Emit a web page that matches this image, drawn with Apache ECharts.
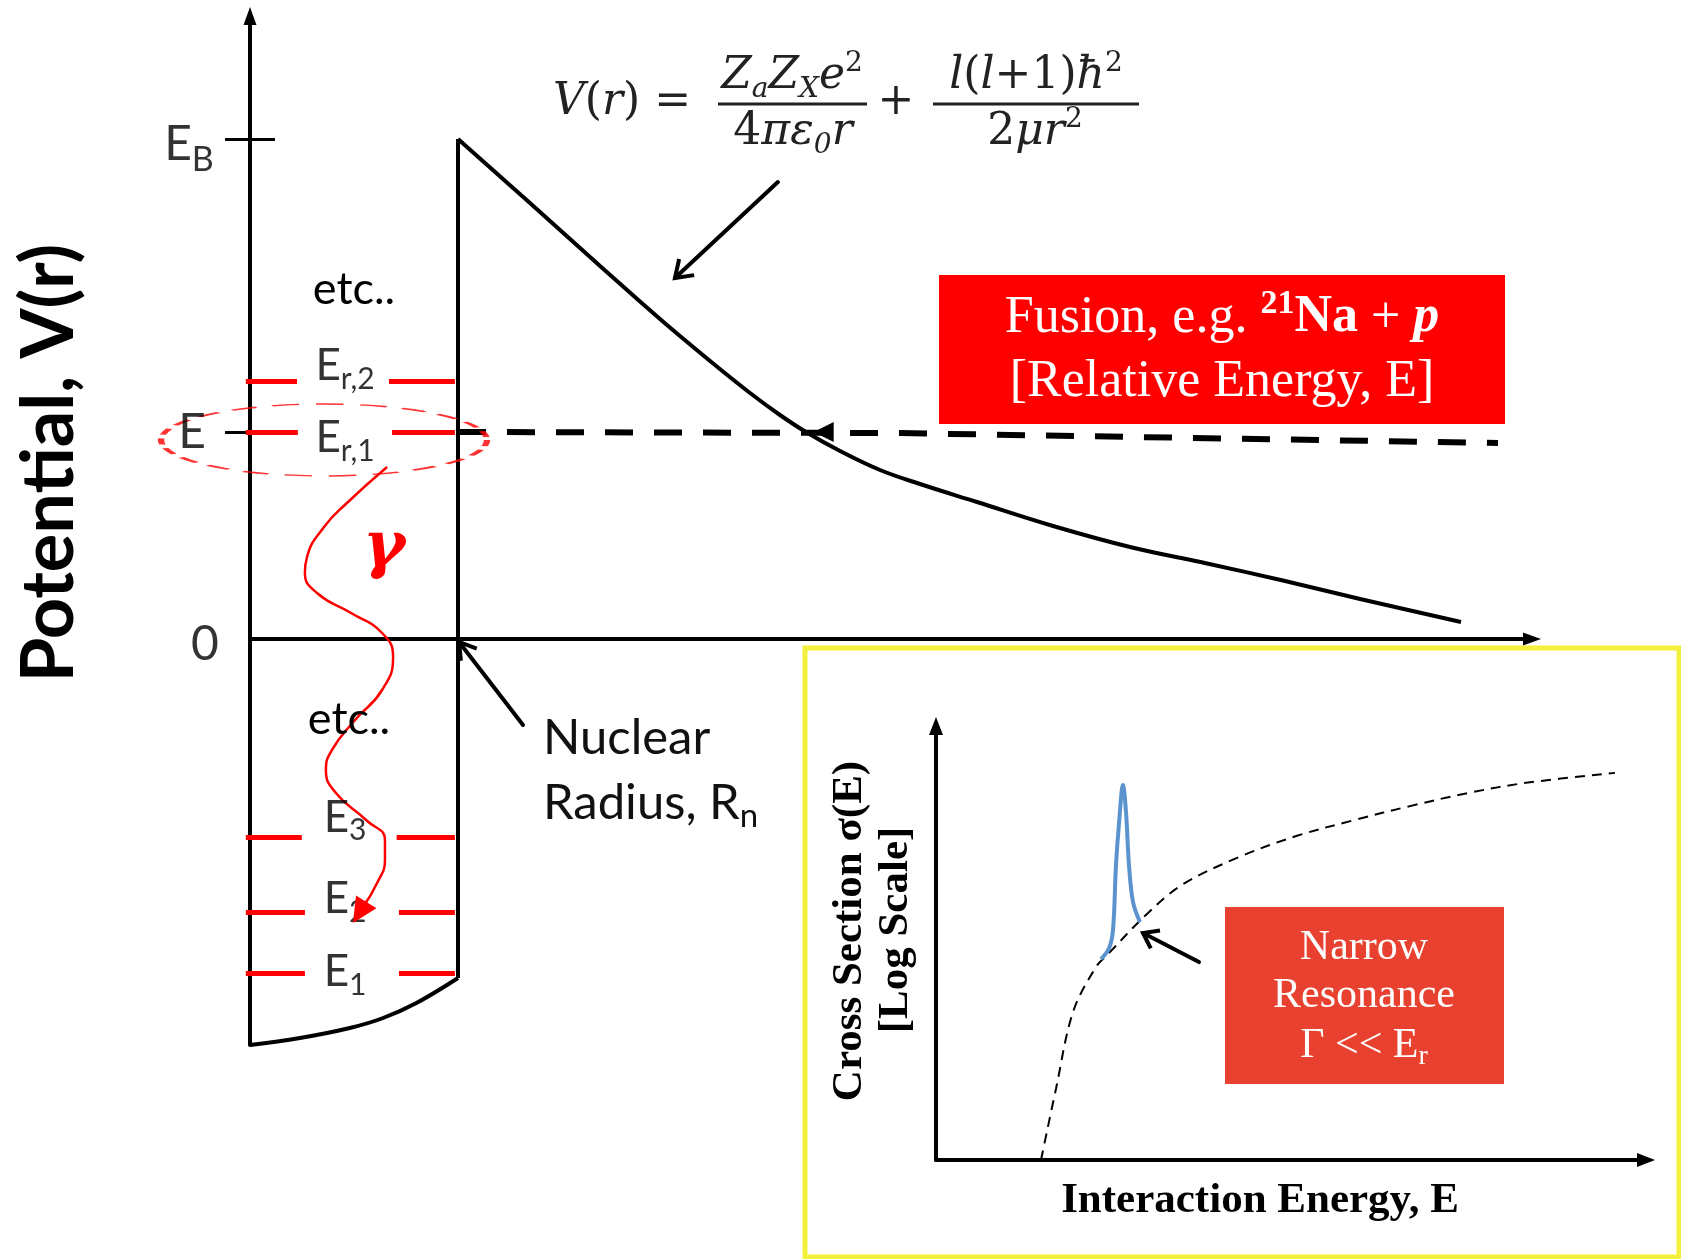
<!DOCTYPE html>
<html><head><meta charset="utf-8"><title>Nuclear potential and narrow resonance</title>
<script src="https://cdn.jsdelivr.net/npm/echarts@6/dist/echarts.min.js"></script>
<style>html,body{margin:0;padding:0;background:#fff;}#chart{width:1681px;height:1259px;}</style>
</head><body><div id="chart"></div>
<script>
// ================= DATA =================
// Main plot: r in units of the nuclear radius R_n, V in arbitrary energy units
const R_N = 1.0;
const E_B = 10.0;          // barrier height
const E_REL = 4.14;        // relative energy E
const WELL_BOTTOM_R = [0, 0.24, 0.48, 0.64, 0.80, 1.0];
const WELL_BOTTOM_V = [-8.12, -7.98, -7.78, -7.58, -7.28, -6.78];
const COULOMB_R = [1.0, 1.346, 1.683, 1.971, 2.212, 2.404, 2.548, 2.673, 2.837, 3.029, 3.221, 3.495, 3.861, 4.231, 4.601, 4.966, 5.337, 5.822];
const COULOMB_V = [10.0, 8.72, 7.46, 6.40, 5.56, 4.92, 4.48, 4.14, 3.76, 3.38, 3.10, 2.74, 2.26, 1.84, 1.51, 1.17, 0.80, 0.34];
const E_LINE_R = [1.0, 3.1, 6.0];
const E_LINE_V = [4.14, 4.12, 3.92];
const LEVEL_SUB = ['r,2', 'r,1', '3', '2', '1'];
const LEVEL_V = [5.16, 4.14, -3.96, -5.46, -6.68];
const LEVEL_GAP_FROM = [0.226, 0.230, 0.249, 0.264, 0.264];
const LEVEL_GAP_TO = [0.668, 0.683, 0.705, 0.716, 0.716];
const AXIS_MARK_TEXT = ['E_B', 'E', '0'];
const AXIS_MARK_V = [E_B, E_REL, 0];
const GAMMA_R = [0.659, 0.466, 0.356, 0.274, 0.264, 0.322, 0.486, 0.635, 0.688, 0.635, 0.505, 0.394, 0.365, 0.413, 0.558, 0.649, 0.649, 0.611, 0.543];
const GAMMA_V = [3.44, 2.72, 2.24, 1.64, 1.32, 0.92, 0.52, 0.12, -0.36, -1.02, -1.62, -2.22, -2.62, -3.08, -3.62, -4.02, -4.42, -4.88, -5.36];
const GAMMA_TIP = [0.495, -5.68];
const RES_ELLIPSE_CENTER = [0.356, 3.98];
const ARROW_FORMULA = [[2.538, 9.14], [2.043, 7.22]];
const ARROW_RN = [[1.3125, -1.72], [1.005, -0.06]];
const ARROW_CROSSING = [[2.95, 4.14], [2.71, 4.14]];
// Inset: interaction energy E vs cross section (log scale), arbitrary units
const SIGMA_E = [1.479, 1.690, 1.930, 2.254, 2.408, 2.972, 3.465, 4.268, 5.085, 5.887, 6.690, 7.507, 8.310, 9.563];
const SIGMA_LOG = [0, 1.64, 3.41, 4.45, 4.72, 5.67, 6.34, 6.98, 7.47, 7.83, 8.16, 8.46, 8.69, 8.92];
const PEAK_E = [2.324, 2.437, 2.493, 2.535, 2.577, 2.634, 2.676, 2.718, 2.775, 2.873];
const PEAK_LOG = [4.63, 4.88, 5.30, 6.80, 7.74, 8.64, 8.02, 6.80, 5.94, 5.48];
const ARROW_INSET = [[3.704, 4.56], [2.915, 5.23]];

// ================= CHART =================
const chart = echarts.init(document.getElementById('chart'), null, {renderer: 'canvas'});
const zip = (a, b) => a.map((v, i) => [v, b[i]]);
const SANS = 'Lato', SERIF = 'Liberation Serif', MATH = 'DejaVu Serif';
const BLACK = '#000', RED = '#ff0000', INK = '#222';
const TICK_HALF = 0.12;
const LEVEL_LEFT = -0.02, LEVEL_RIGHT = 0.985;
const LEVEL_LABEL_R = 0.457;
const LEVEL_LABEL_DY = [-15, 6, -19.5, -13, -1];
const AXIS_MARK_OFF = [[-61, 6], [-58, 0.5], [-45, 5.5]];

function axisCfg(g, min, max, sym) {
  return {type: 'value', gridIndex: g, min: min, max: max, z: 3,
    axisLine: {show: true, onZero: true, symbol: ['none', 'triangle'], symbolSize: sym,
      lineStyle: {color: BLACK, width: 4}},
    axisTick: {show: false}, axisLabel: {show: false}, splitLine: {show: false}};
}
const lineBase = (g, data, style, extra) => Object.assign({type: 'line', xAxisIndex: g, yAxisIndex: g,
  data: data, showSymbol: false, symbol: 'none', clip: false, silent: true, lineStyle: style, z: 4}, extra || {});

const levelSegs = [];
LEVEL_V.forEach((v, i) => {
  levelSegs.push({coords: [[LEVEL_LEFT, v], [LEVEL_GAP_FROM[i], v]]});
  levelSegs.push({coords: [[LEVEL_GAP_TO[i], v], [LEVEL_RIGHT, v]]});
});

const option = {
  animation: false,
  backgroundColor: '#fff',
  grid: [{left: 250, top: 16, width: 1282, height: 1029}, {left: 936, top: 726, width: 710, height: 434}],
  xAxis: [axisCfg(0, 0, 1282 / 208, [13, 18]), axisCfg(1, 0, 10, [14, 18])],
  yAxis: [axisCfg(0, -8.12, 12.46, [13, 18]), axisCfg(1, 0, 10, [14, 18])],
  series: [
    lineBase(0, zip(WELL_BOTTOM_R, WELL_BOTTOM_V), {color: BLACK, width: 4}, {smooth: 0.4}),
    lineBase(0, [[R_N, WELL_BOTTOM_V[WELL_BOTTOM_V.length - 1]], [R_N, E_B]], {color: BLACK, width: 4}),
    lineBase(0, zip(COULOMB_R, COULOMB_V), {color: BLACK, width: 4}, {smooth: 0.4}),
    lineBase(0, zip(E_LINE_R, E_LINE_V), {color: BLACK, width: 6, type: [28, 21], cap: 'butt'}),
    {type: 'lines', coordinateSystem: 'cartesian2d', xAxisIndex: 0, yAxisIndex: 0, clip: false, silent: true, z: 4,
      data: [E_B, E_REL].map(v => ({coords: [[-TICK_HALF, v], [TICK_HALF, v]]})),
      lineStyle: {color: BLACK, width: 3, opacity: 1}},
    {type: 'lines', coordinateSystem: 'cartesian2d', xAxisIndex: 0, yAxisIndex: 0, clip: false, silent: true, z: 5,
      data: levelSegs, lineStyle: {color: RED, width: 5, opacity: 1}},
    lineBase(0, zip(GAMMA_R, GAMMA_V), {color: RED, width: 2.5}, {smooth: 0.5, z: 6}),
    {type: 'scatter', xAxisIndex: 0, yAxisIndex: 0, silent: true, clip: false, z: 6,
      symbol: 'circle', symbolSize: [326, 72], data: [RES_ELLIPSE_CENTER],
      itemStyle: {color: 'rgba(0,0,0,0)', borderColor: RED, borderWidth: 3, borderType: [13, 8]}},
    {type: 'scatter', xAxisIndex: 0, yAxisIndex: 0, silent: true, clip: false, z: 7,
      symbolSize: 1, itemStyle: {color: 'rgba(0,0,0,0)'},
      data: LEVEL_V.map(v => [LEVEL_LABEL_R, v]),
      label: {show: true, position: 'inside', color: BLACK,
        formatter: p => '{m|E}{s|' + LEVEL_SUB[p.dataIndex] + '}',
        rich: {m: {fontFamily: SANS, fontSize: 44, lineHeight: 56, color: BLACK},
               s: {fontFamily: SANS, fontSize: 30, lineHeight: 28, verticalAlign: 'bottom', color: BLACK}}},
      labelLayout: p => ({dy: LEVEL_LABEL_DY[p.dataIndex]})},
    {type: 'scatter', xAxisIndex: 0, yAxisIndex: 0, silent: true, clip: false, z: 7,
      symbolSize: 1, itemStyle: {color: 'rgba(0,0,0,0)'},
      data: AXIS_MARK_V.map(v => [0, v]),
      label: {show: true, position: 'inside', color: BLACK,
        formatter: p => { const t = AXIS_MARK_TEXT[p.dataIndex].split('_'); return '{m|' + t[0] + '}' + (t[1] ? '{s|' + t[1] + '}' : ''); },
        rich: {m: {fontFamily: SANS, fontSize: 48, lineHeight: 64, color: BLACK},
               s: {fontFamily: SANS, fontSize: 34, lineHeight: 30, verticalAlign: 'bottom', color: BLACK}}},
      labelLayout: p => ({dx: AXIS_MARK_OFF[p.dataIndex][0], dy: AXIS_MARK_OFF[p.dataIndex][1]})},
    // inset
    lineBase(1, zip(SIGMA_E, SIGMA_LOG), {color: BLACK, width: 2, type: [10, 7]}, {smooth: 0.35}),
    lineBase(1, zip(PEAK_E, PEAK_LOG), {color: '#5b93cf', width: 4}, {smooth: 0.35, z: 6})
  ]
};
chart.setOption(option);

// ---------- annotations (text, boxes, arrows) ----------
const px = (g, p) => chart.convertToPixel({gridIndex: g}, p);
function arrow(g, from, to, o) {
  const a = px(g, from), b = px(g, to);
  const dx = b[0] - a[0], dy = b[1] - a[1], L = Math.hypot(dx, dy);
  const ux = dx / L, uy = dy / L, nx = -uy, ny = ux;
  const bx = b[0] - ux * o.len, by = b[1] - uy * o.len;
  const p1 = [bx + nx * o.half, by + ny * o.half], p2 = [bx - nx * o.half, by - ny * o.half];
  const els = [];
  if (o.shaft !== false) els.push({type: 'line', z: 8, silent: true,
    shape: {x1: a[0], y1: a[1], x2: o.filled ? bx : b[0], y2: o.filled ? by : b[1]},
    style: {stroke: o.color, lineWidth: o.width, lineCap: 'round'}});
  if (o.filled) els.push({type: 'polygon', z: 8, silent: true, shape: {points: [b, p1, p2]}, style: {fill: o.color}});
  else els.push({type: 'polyline', z: 8, silent: true, shape: {points: [p1, b, p2]},
    style: {stroke: o.color, lineWidth: o.width, fill: null, lineJoin: 'miter'}});
  return els;
}
function txt(x, y, text, st, extra) {
  return Object.assign({type: 'text', x: x, y: y, z: 10, silent: true,
    style: Object.assign({text: text, fill: BLACK, align: 'center', verticalAlign: 'middle'}, st)}, extra || {});
}
const mathRich = {
  i: {fontFamily: MATH, fontStyle: 'italic', fontSize: 44, lineHeight: 54, fill: INK},
  n: {fontFamily: MATH, fontSize: 44, lineHeight: 54, fill: INK},
  su: {fontFamily: MATH, fontSize: 28, lineHeight: 28, verticalAlign: 'top', fill: INK},
  si: {fontFamily: MATH, fontStyle: 'italic', fontSize: 28, lineHeight: 28, verticalAlign: 'bottom', fill: INK}
};
const mathSt = {fontFamily: MATH, fontSize: 44, fill: INK, rich: mathRich};

const graphics = [
  // inset frame
  {type: 'rect', z: -10, silent: true, shape: {x: 805, y: 648, width: 874, height: 609},
    style: {fill: '#fff', stroke: '#f3ef3b', lineWidth: 5}},
  // y title
  txt(50, 463, 'Potential, V(r)', {fontFamily: SANS, fontWeight: 'bold', fontSize: 72}, {rotation: Math.PI / 2}),
  txt(354, 289, 'etc..', {fontFamily: SANS, fontSize: 45}),
  txt(349, 719, 'etc..', {fontFamily: SANS, fontSize: 45}),
  txt(543, 738, 'Nuclear', {fontFamily: SANS, fontSize: 49, fill: '#111', align: 'left'}),
  txt(543, 803, '{m|Radius, R}{s|n}', {fontFamily: SANS, fontSize: 49, fill: '#111', align: 'left',
    rich: {m: {fontFamily: SANS, fontSize: 49, lineHeight: 60, fill: '#111'},
           s: {fontFamily: SANS, fontSize: 33, lineHeight: 28, verticalAlign: 'bottom', fill: '#111'}}}),
  txt(384, 549, 'γ', {fontFamily: MATH, fontWeight: 'bold', fontStyle: 'italic', fontSize: 64, fill: RED}),
  // formula
  txt(553, 103, '{i|V}{n|(}{i|r}{n|) =}', Object.assign({align: 'left'}, mathSt)),
  txt(792, 77, '{i|Z}{si|a}{i|Z}{si|X}{i|e}{su|2}', mathSt),
  {type: 'line', z: 10, silent: true, shape: {x1: 718, y1: 104, x2: 867, y2: 104}, style: {stroke: INK, lineWidth: 3}},
  txt(793, 133, '{n|4}{i|πε}{si|0}{i|r}', mathSt),
  txt(896, 103, '{n|+}', mathSt),
  txt(1036, 77, '{i|l}{n|(}{i|l}{n|+1)}{i|ħ}{su|2}', mathSt),
  {type: 'line', z: 10, silent: true, shape: {x1: 933, y1: 104, x2: 1139, y2: 104}, style: {stroke: INK, lineWidth: 3}},
  txt(1035, 133, '{n|2}{i|μr}{su|2}', mathSt),
  // fusion box
  {type: 'rect', z: 9, silent: true, shape: {x: 939, y: 275, width: 566, height: 149}, style: {fill: RED}},
  txt(1222, 318, '{n|Fusion, e.g. }{sb|21}{b|Na}{n| + }{bi|p}', {fontFamily: SERIF, fontSize: 52, fill: '#fff',
    rich: {n: {fontFamily: SERIF, fontSize: 52, lineHeight: 62, fill: '#fff'},
           sb: {fontFamily: SERIF, fontSize: 34, fontWeight: 'bold', lineHeight: 34, verticalAlign: 'top', fill: '#fff'},
           b: {fontFamily: SERIF, fontSize: 52, fontWeight: 'bold', lineHeight: 62, fill: '#fff'},
           bi: {fontFamily: SERIF, fontSize: 52, fontWeight: 'bold', fontStyle: 'italic', lineHeight: 62, fill: '#fff'}}}),
  txt(1222, 382, '[Relative Energy, E]', {fontFamily: SERIF, fontSize: 52, fill: '#fff'}),
  // narrow resonance box
  {type: 'rect', z: 9, silent: true, shape: {x: 1225, y: 907, width: 279, height: 177}, style: {fill: '#e8412f'}},
  txt(1364, 948, 'Narrow', {fontFamily: SERIF, fontSize: 42, fill: '#fff'}),
  txt(1364, 996, 'Resonance', {fontFamily: SERIF, fontSize: 42, fill: '#fff'}),
  txt(1364, 1046, '{n|Γ << E}{s|r}', {fontFamily: SERIF, fontSize: 42, fill: '#fff',
    rich: {n: {fontFamily: SERIF, fontSize: 42, lineHeight: 50, fill: '#fff'},
           s: {fontFamily: SERIF, fontSize: 28, lineHeight: 26, verticalAlign: 'bottom', fill: '#fff'}}}),
  // inset titles
  txt(850, 931, 'Cross Section σ(E)', {fontFamily: SERIF, fontWeight: 'bold', fontSize: 43}, {rotation: Math.PI / 2}),
  txt(896, 930, '[Log Scale]', {fontFamily: SERIF, fontWeight: 'bold', fontSize: 43}, {rotation: Math.PI / 2}),
  txt(1260, 1201, 'Interaction Energy, E', {fontFamily: SERIF, fontWeight: 'bold', fontSize: 43})
].concat(
  arrow(0, ARROW_FORMULA[0], ARROW_FORMULA[1], {color: BLACK, width: 4, len: 16, half: 11}),
  arrow(0, ARROW_RN[0], ARROW_RN[1], {color: BLACK, width: 4, len: 16, half: 10}),
  arrow(0, ARROW_CROSSING[0], ARROW_CROSSING[1], {color: BLACK, width: 6, len: 20, half: 10, filled: true, shaft: false}),
  arrow(0, [GAMMA_R[GAMMA_R.length - 1], GAMMA_V[GAMMA_V.length - 1]], GAMMA_TIP, {color: RED, width: 2.5, len: 25, half: 12, filled: true}),
  arrow(1, ARROW_INSET[0], ARROW_INSET[1], {color: BLACK, width: 4, len: 14, half: 10})
);
chart.setOption({graphic: graphics});
</script></body></html>
